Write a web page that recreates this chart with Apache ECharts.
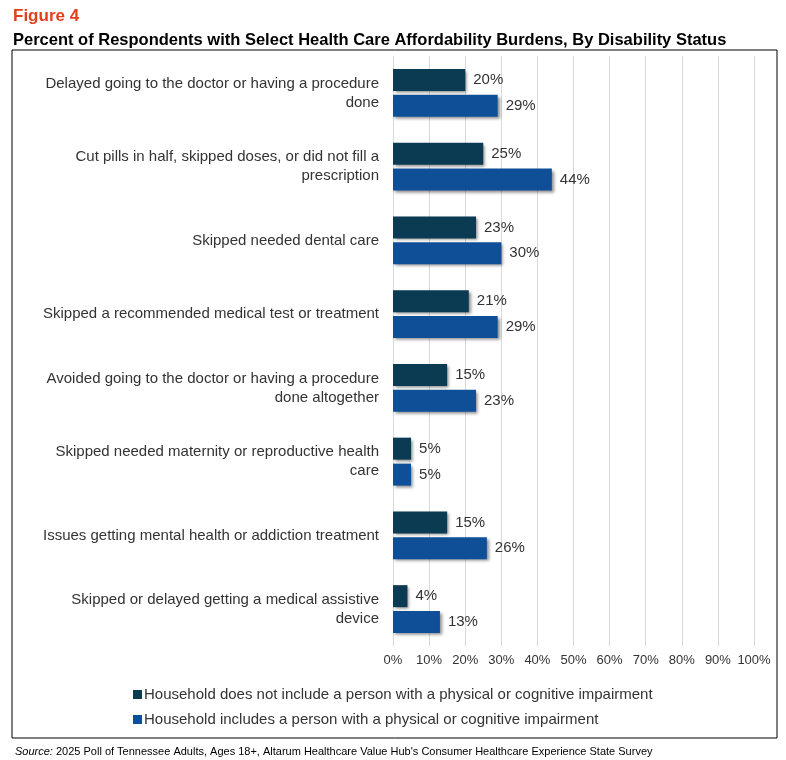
<!doctype html>
<html lang="en">
<head>
<meta charset="UTF-8">
<title>Figure 4</title>
<script src="https://cdn.jsdelivr.net/npm/echarts@6/dist/echarts.min.js"></script>
<style>
    html, body { margin: 0; padding: 0; background: #fff; }
    #chart { width: 786px; height: 760px; }
</style>
</head>
<body>
<div id="chart"></div>
<script>
    var categories = [
        'Delayed going to the doctor or having a procedure\ndone',
        'Cut pills in half, skipped doses, or did not fill a\nprescription',
        'Skipped needed dental care',
        'Skipped a recommended medical test or treatment',
        'Avoided going to the doctor or having a procedure\ndone altogether',
        'Skipped needed maternity or reproductive health\ncare',
        'Issues getting mental health or addiction treatment',
        'Skipped or delayed getting a medical assistive\ndevice'
    ];
    var noImpairment = [20, 25, 23, 21, 15, 5, 15, 4];
    var withImpairment = [29, 44, 30, 29, 23, 5, 26, 13];
    var seriesNames = [
        'Household does not include a person with a physical or cognitive impairment',
        'Household includes a person with a physical or cognitive impairment'
    ];

    var chart = echarts.init(document.getElementById('chart'));
    var barShadow = { shadowColor: 'rgba(0,0,0,0.45)', shadowBlur: 3, shadowOffsetX: 2, shadowOffsetY: 2 };
    var labelStyle = { show: true, position: 'right', distance: 8, formatter: '{c}%', color: '#333', fontSize: 15 };

    chart.setOption({
        animation: false,
        textStyle: { fontFamily: 'Liberation Sans' },
        title: [
            { text: 'Figure 4', left: 8, top: 3, textStyle: { color: '#e0401c', fontSize: 17, fontWeight: 'bold' } },
            { text: 'Percent of Respondents with Select Health Care Affordability Burdens, By Disability Status', left: 8, top: 27, textStyle: { color: '#000', fontSize: 16.5, fontWeight: 'bold' } },
            { text: '{i|Source:} 2025 Poll of Tennessee Adults, Ages 18+, Altarum Healthcare Value Hub\'s Consumer Healthcare Experience State Survey', left: 10, top: 741, textStyle: { color: '#000', fontSize: 11, fontWeight: 'normal', rich: { i: { fontStyle: 'italic', fontSize: 11 } } } }
        ],
        graphic: [{ type: 'rect', shape: { x: 12, y: 50, width: 765, height: 688 }, style: { fill: 'none', stroke: '#000', lineWidth: 1 } }],
        legend: {
            orient: 'vertical', left: 128, top: 682, itemGap: 10, itemWidth: 9, itemHeight: 9, icon: 'rect',
            textStyle: { color: '#333', fontSize: 15, padding: [0, 0, 0, -3] },
            data: seriesNames
        },
        grid: { left: 393, right: 32, top: 56, height: 590 },
        xAxis: {
            type: 'value', min: 0, max: 100, interval: 10,
            axisLabel: { formatter: '{value}%', color: '#333', fontSize: 13, margin: 8 },
            splitLine: { lineStyle: { color: '#d9d9d9' } },
            axisLine: { show: false }, axisTick: { show: false }
        },
        yAxis: {
            type: 'category', inverse: true, data: categories,
            axisLabel: { color: '#333', fontSize: 15, lineHeight: 19, margin: 14, align: 'right' },
            axisLine: { show: false }, axisTick: { show: false }
        },
        series: [
            { name: seriesNames[0], type: 'bar', data: noImpairment, barWidth: 22, barGap: '18%',
              itemStyle: Object.assign({ color: '#0b3b53' }, barShadow), label: labelStyle },
            { name: seriesNames[1], type: 'bar', data: withImpairment, barWidth: 22,
              itemStyle: Object.assign({ color: '#0f4f97' }, barShadow), label: labelStyle }
        ]
    });
</script>
</body>
</html>
